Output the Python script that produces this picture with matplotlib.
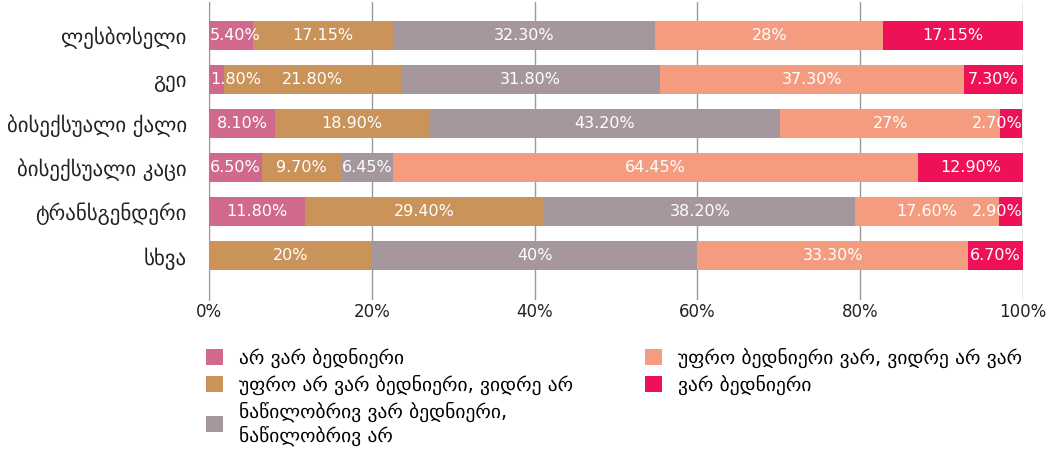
import matplotlib
matplotlib.use("Agg")
import matplotlib.pyplot as plt
from matplotlib.patches import Patch
from matplotlib.ticker import FuncFormatter

plt.rcParams['font.family'] = ['DejaVu Sans']

categories = ["ლესბოსელი", "გეი", "ბისექსუალი ქალი", "ბისექსუალი კაცი", "ტრანსგენდერი", "სხვა"]
series_names = [
    "არ ვარ ბედნიერი",
    "უფრო არ ვარ ბედნიერი, ვიდრე არ",
    "ნაწილობრივ ვარ ბედნიერი,\nნაწილობრივ არ",
    "უფრო ბედნიერი ვარ, ვიდრე არ ვარ",
    "ვარ ბედნიერი",
]
not_happy = [5.40, 1.80, 8.10, 6.50, 11.80, 0]
more_not = [17.15, 21.80, 18.90, 9.70, 29.40, 20]
partly = [32.30, 31.80, 43.20, 6.45, 38.20, 40]
more_happy = [28, 37.30, 27, 64.45, 17.60, 33.30]
happy = [17.15, 7.30, 2.70, 12.90, 2.90, 6.70]
series = [not_happy, more_not, partly, more_happy, happy]
colors = ["#D1698F", "#C9935A", "#A6979F", "#F49C80", "#EE1157"]
xticks = [0, 20, 40, 60, 80, 100]

fig = plt.figure(figsize=(10.48, 4.53), dpi=100)
ax = fig.add_axes([209/1048, 1-300/453, (1023-209)/1048, 298/453])

y = list(range(len(categories)))
left = [0]*len(categories)
texts = []
for vals, col in zip(series, colors):
    ax.barh(y, vals, left=left, height=0.66, color=col, zorder=3)
    for i, v in enumerate(vals):
        if v > 0:
            lab = ("%d%%" % v) if float(v).is_integer() else ("%.2f%%" % v)
            t = ax.text(left[i] + v/2, i, lab, ha='center', va='center',
                        color='white', fontsize=11.5, zorder=4)
            texts.append((t, left[i], v))
    left = [l + v for l, v in zip(left, vals)]

ax.set_xlim(0, 100)
ax.set_ylim(6.0, -0.75)
ax.set_yticks(y)
ax.set_yticklabels(categories, fontsize=15, color='#222222')
ax.set_xticks(xticks)
ax.xaxis.set_major_formatter(FuncFormatter(lambda v, p: "%d%%" % v))
ax.tick_params(axis='x', labelsize=12, colors='#222222', length=0, pad=2)
ax.tick_params(axis='y', length=0, pad=16)
ax.grid(axis='x', color='#999999', linewidth=1, zorder=0)
for s in ['top', 'right', 'bottom']:
    ax.spines[s].set_visible(False)
ax.spines['left'].set_color('#999999')

# keep overflowing labels inside bar bounds
fig.canvas.draw()
r = fig.canvas.get_renderer()
inv = ax.transData.inverted()
for t, l, v in texts:
    bb = t.get_window_extent(r)
    x0 = inv.transform((bb.x0, bb.y0))[0]
    x1 = inv.transform((bb.x1, bb.y0))[0]
    w = x1 - x0
    cx = l + v/2
    cx = max(cx, w/2 + 0.1)
    cx = min(cx, 100 - w/2 - 0.1)
    t.set_x(cx)

handles = [Patch(facecolor=c, edgecolor='none') for c in colors]
fig.legend(handles, series_names, loc='upper left', bbox_to_anchor=(192/1048, 1-334/453),
           ncol=2, frameon=False, fontsize=14, handlelength=0.9, handleheight=0.9,
           columnspacing=3.7, labelspacing=0.35, handletextpad=0.8, borderpad=0.2)

fig.savefig("out.png", dpi=100)
